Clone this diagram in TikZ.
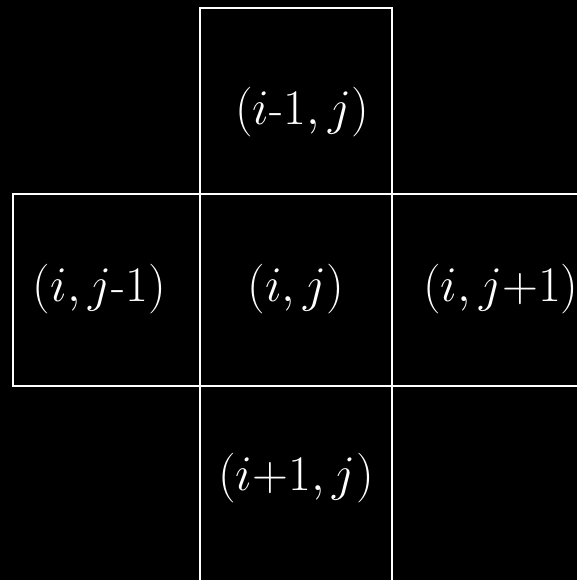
\documentclass[tikz,border=0pt]{standalone}
\usepackage{tikz}
\usetikzlibrary{positioning}

\begin{document}
\begin{tikzpicture}[
  x=0.5pt, y=-0.5pt,
  cell/.style={draw=white,line width=1pt,inner sep=0pt,outer sep=0pt,
               minimum width=96pt,minimum height=96pt},
  lab/.style={text=white,font=\fontsize{23}{28}\selectfont,inner sep=0pt}
]
\fill[black] (0,0) rectangle (577,580);
\clip (0,0) rectangle (577,580);

% the cell and its four neighbours
\node[cell] (c) at (296,289.5) {};
\node[cell,minimum height=93pt,above=0pt of c] (n) {};
\node[cell,minimum width=93.5pt,left=0pt of c] (w) {};
\node[cell,right=0pt of c] (e) {};
\node[cell,minimum height=110pt,below=0pt of c] (s) {};

\node[lab] (lc) at (c) {$(i, j)$};
\node[lab,xshift=3pt,yshift=-6pt] (ln) at (n) {$(i$-$1, j)$};
\node[lab,xshift=-3.5pt] (lw) at (w) {$(i, j$-$1)$};
\node[lab,xshift=6.5pt] (le) at (e) {$(i, j{+}1)$};
\node[lab,yshift=8.5pt] (ls) at (s) {$(i{+}1, j)$};
\end{tikzpicture}
\end{document}
